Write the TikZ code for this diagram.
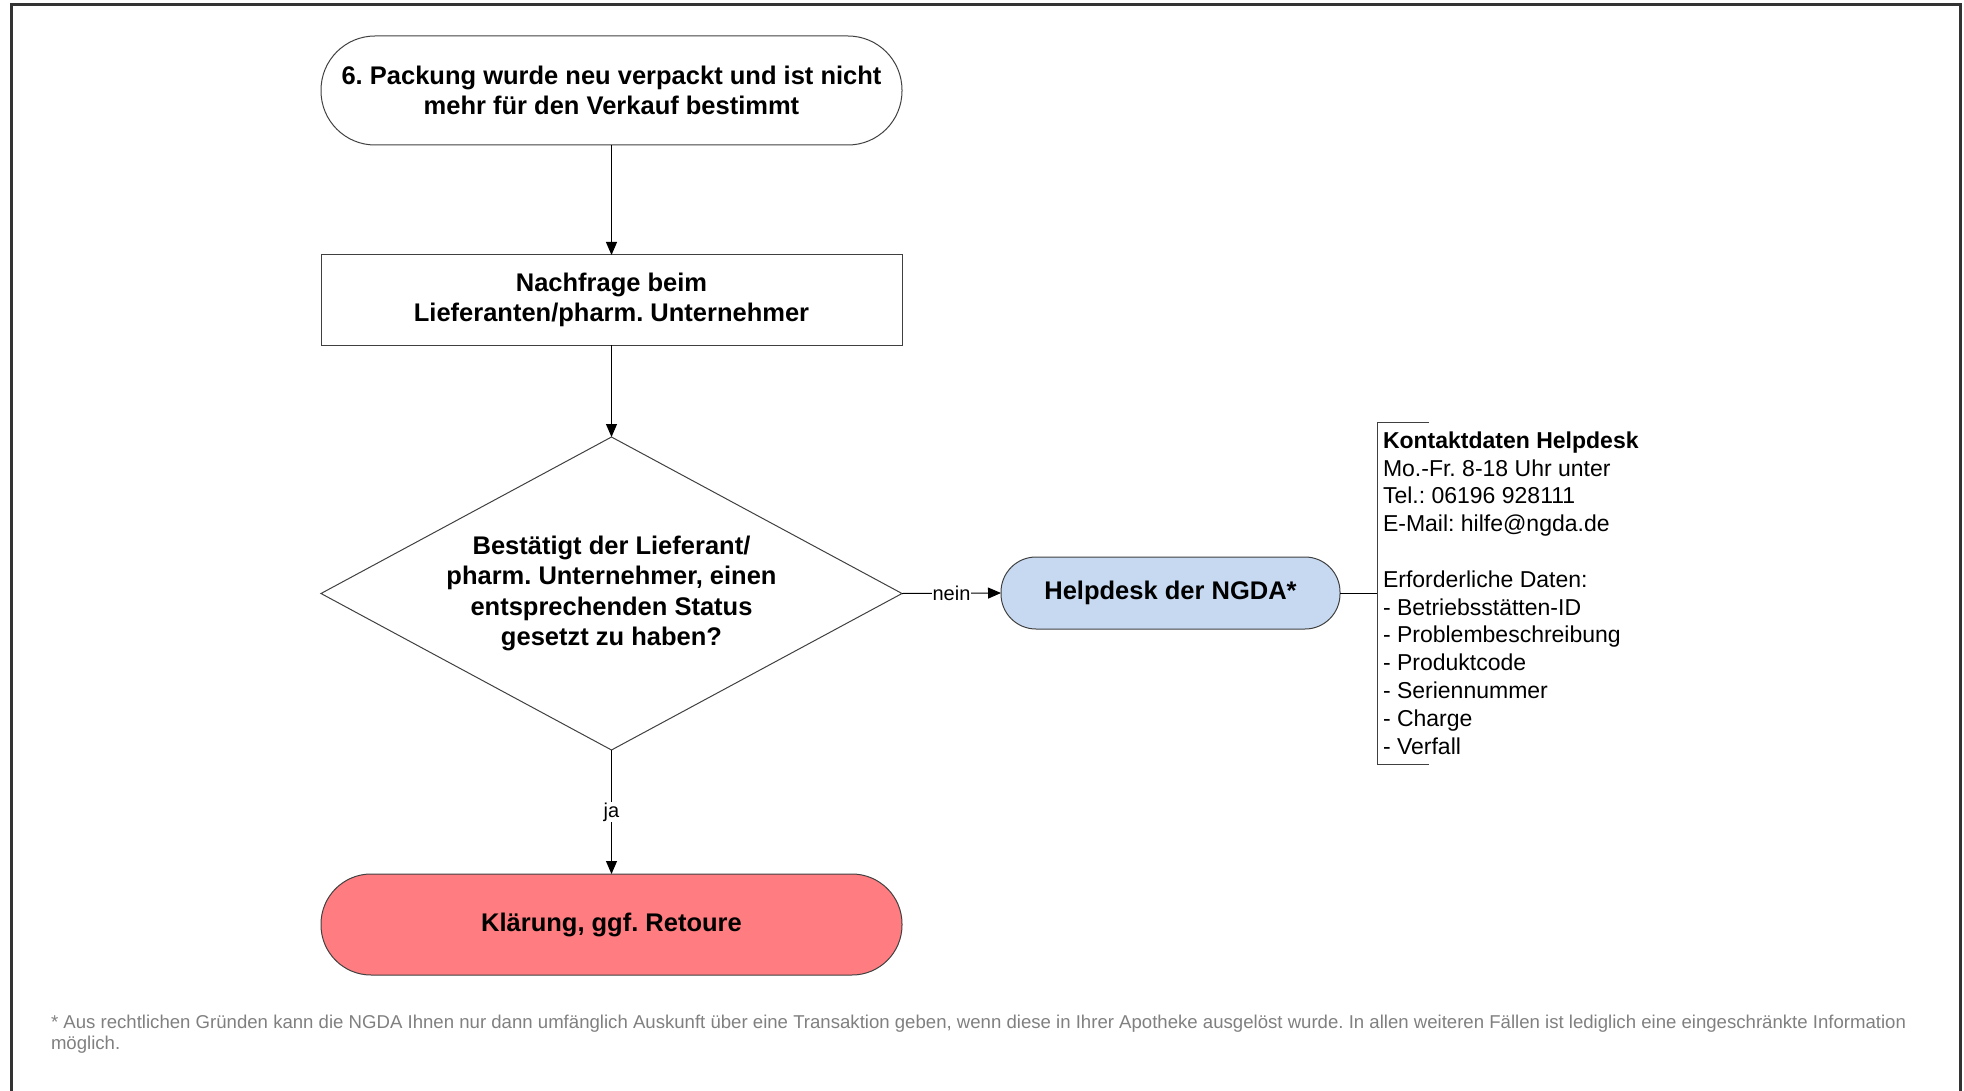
\documentclass[tikz,border=0pt]{standalone}
\usepackage{fontspec}
\setmainfont{Liberation Sans}
\usetikzlibrary{arrows.meta,shapes.geometric}
\definecolor{framegray}{HTML}{333333}
\definecolor{edgegray}{HTML}{404040}
\definecolor{redfill}{HTML}{FF7C80}
\definecolor{bluefill}{HTML}{C6D9F1}
\definecolor{notegray}{HTML}{808080}
\frenchspacing
\tikzset{
  every node/.style={inner sep=0pt, outer sep=0pt},
  bigbold/.style={font=\fontsize{25.5}{30.5}\selectfont\bfseries, align=center, text=black},
  termbox/.style={bigbold, draw=edgegray, line width=1pt, minimum width=581, rectangle},
  procbox/.style={bigbold, draw=edgegray, line width=1pt, minimum width=581, minimum height=90, rectangle},
  decbox/.style={bigbold, draw=edgegray, line width=1pt, diamond, aspect=1.856, minimum width=581, minimum height=313},
  flow/.style={draw=black, line width=1pt, -{Triangle[length=13pt,width=11pt]}},
  lbl/.style={font=\fontsize{20}{24}\selectfont, fill=white, inner sep=1pt},
}
\begin{document}
\begin{tikzpicture}[x=1pt,y=-1pt]
\useasboundingbox (0,0) rectangle (1964,1091);
% frame
\draw[framegray, line width=3pt] (11,1095) -- (11,5) -- (1960,5) -- (1960,1095);

\node[termbox, minimum height=109, rounded corners=54pt] (start) at (611.5,90.5)
  {6. Packung wurde neu verpackt und ist nicht\\mehr für den Verkauf bestimmt};
\node[procbox] (ask) at (611.5,300)
  {Nachfrage beim\\Lieferanten/pharm. Unternehmer};
\node[decbox] (dec) at (611.5,593.5)
  {Bestätigt der Lieferant/\\pharm. Unternehmer, einen\\entsprechenden Status\\gesetzt zu haben?};
\node[termbox, minimum height=101, rounded corners=50pt, fill=redfill] (end) at (611.5,924.5)
  {\raisebox{-2pt}{Klärung, ggf. Retoure}};
\node[bigbold, draw=edgegray, line width=1pt, minimum width=339, minimum height=72, rounded corners=35pt, fill=bluefill] (help) at (1170.5,593)
  {Helpdesk der NGDA*};

% bracket annotation
\coordinate (brtop) at (1429,422);
\coordinate (brmid) at (1377,593);
\coordinate (brbot) at (1429,764);
\draw[edgegray, line width=1pt] (brtop) -- (1377,422) -- (1377,764) -- (brbot);
\draw[black, line width=1pt] (help.east) -- (brmid);
\node[anchor=west, align=left, font=\fontsize{23}{27.8}\selectfont] (info) at (1383,593)
  {\textbf{Kontaktdaten Helpdesk}\\Mo.-Fr. 8-18 Uhr unter\\Tel.: 06196 928111\\E-Mail: hilfe@ngda.de\\[27.8pt]Erforderliche Daten:\\- Betriebsstätten-ID\\- Problembeschreibung\\- Produktcode\\- Seriennummer\\- Charge\\- Verfall};

% connectors
\draw[flow] (start.south) -- (ask.north);
\draw[flow] (ask.south) -- (dec.north);
\draw[flow] (dec.east) -- node[lbl] (nein) {nein} (help.west);
\draw[flow] (dec.south) -- node[lbl] (ja) {ja} (end.north);

% footnote
\node[anchor=west, align=left, text=notegray, font=\fontsize{18.6}{21.5}\selectfont] (note) at (51,1034)
  {* Aus rechtlichen Gründen kann die NGDA Ihnen nur dann umfänglich Auskunft über eine Transaktion geben, wenn diese in Ihrer Apotheke ausgelöst wurde. In allen weiteren Fällen ist lediglich eine eingeschränkte Information\\möglich.};
\end{tikzpicture}
\end{document}
